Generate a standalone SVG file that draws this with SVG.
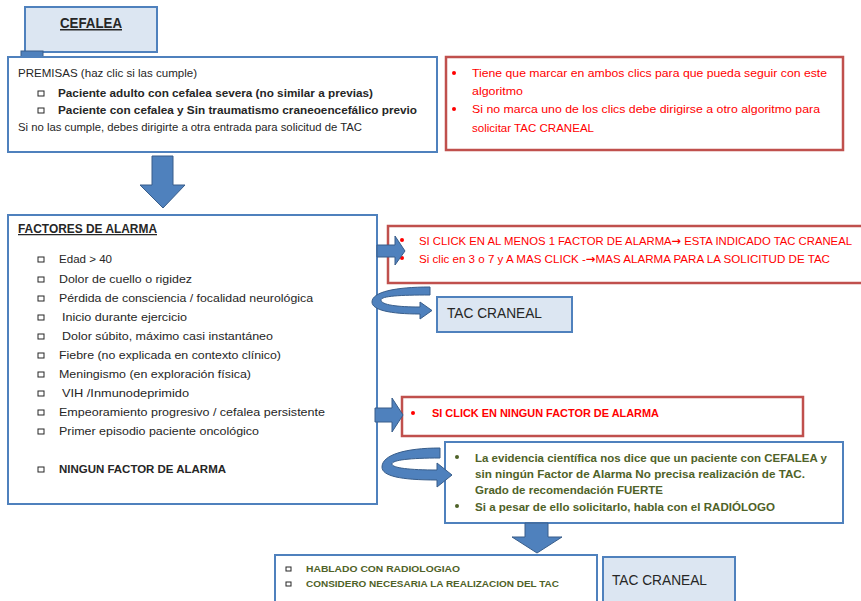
<svg xmlns="http://www.w3.org/2000/svg" width="861" height="601" viewBox="0 0 861 601">
  <style>
    text { font-family: "Liberation Sans", Arial, sans-serif; fill: #262626; }
    .box { fill: #ffffff; stroke: #4f81bd; stroke-width: 2; }
    .lbox { fill: #dce6f2; stroke: #4f81bd; stroke-width: 2; }
    .rbox { fill: #ffffff; stroke: #c0504d; stroke-width: 2.5; }
    .arrow { fill: #4f81bd; stroke: #385d8a; stroke-width: 1; }
    .chk { fill: #ffffff; stroke: #262626; stroke-width: 1; }
    .t { font-size: 11.5px; }
    .tb { font-size: 11.5px; font-weight: bold; }
    .red { font-size: 11.5px; fill: #ff0000; }
    .grn { font-size: 11.5px; font-weight: bold; fill: #4f6228; }
    .sgrn { font-size: 9.5px; font-weight: bold; fill: #4f6228; }
    .tac { font-size: 15.5px; }
    .title { font-size: 15px; font-weight: bold; text-decoration: underline; }
    .rdot { fill: #ff0000; }
    .gdot { fill: #4f6228; }
    .sym { font-family: "DejaVu Sans", sans-serif; font-weight: bold; }
  </style>

  <!-- Title -->
  <g id="cefalea">
    <rect class="lbox" x="25" y="7" width="132" height="45"/>
    <rect x="21" y="51" width="22" height="7" fill="#4f81bd" stroke="#385d8a" stroke-width="1"/>
    <text class="title" x="60" y="28" textLength="62" lengthAdjust="spacingAndGlyphs">CEFALEA</text>
  </g>

  <!-- Premises -->
  <g id="premisas">
    <rect class="box" x="8" y="57" width="429" height="95"/>
    <text class="t" x="18" y="77" textLength="179" lengthAdjust="spacingAndGlyphs">PREMISAS (haz clic si las cumple)</text>
    <rect class="chk" x="38" y="91" width="6" height="5"/>
    <text class="tb" x="58" y="97" textLength="315" lengthAdjust="spacingAndGlyphs">Paciente adulto con cefalea severa (no similar a previas)</text>
    <rect class="chk" x="38" y="108" width="6" height="5"/>
    <text class="tb" x="58" y="114" textLength="359" lengthAdjust="spacingAndGlyphs">Paciente con cefalea y Sin traumatismo craneoencefálico previo</text>
    <text class="t" x="18" y="131" style="font-size:10.5px" textLength="344" lengthAdjust="spacingAndGlyphs">Si no las cumple, debes dirigirte a otra entrada para solicitud de TAC</text>
  </g>

  <!-- Premises note -->
  <g id="nota-premisas">
    <rect class="rbox" x="446" y="57" width="397" height="93"/>
    <circle class="rdot" cx="454" cy="73" r="2"/>
    <text class="red" x="472" y="77" textLength="355" lengthAdjust="spacingAndGlyphs">Tiene que marcar en ambos clics para que pueda seguir con este</text>
    <text class="red" x="472" y="95" textLength="51" lengthAdjust="spacingAndGlyphs">algoritmo</text>
    <circle class="rdot" cx="454" cy="109" r="2"/>
    <text class="red" x="472" y="113" textLength="348" lengthAdjust="spacingAndGlyphs">Si no marca uno de los clics debe dirigirse a otro algoritmo para</text>
    <text class="red" x="472" y="132" textLength="122" lengthAdjust="spacingAndGlyphs">solicitar TAC CRANEAL</text>
  </g>

  <!-- Alarm factors -->
  <g id="factores">
    <rect class="box" x="8" y="215" width="369" height="289"/>
    <text class="title" x="18" y="233" style="font-size:12.5px" textLength="139" lengthAdjust="spacingAndGlyphs">FACTORES DE ALARMA</text>
    <g class="chks">
      <rect class="chk" x="38" y="257" width="6" height="5"/>
      <rect class="chk" x="38" y="277" width="6" height="5"/>
      <rect class="chk" x="38" y="296" width="6" height="5"/>
      <rect class="chk" x="38" y="315" width="6" height="5"/>
      <rect class="chk" x="38" y="334" width="6" height="5"/>
      <rect class="chk" x="38" y="353" width="6" height="5"/>
      <rect class="chk" x="38" y="372" width="6" height="5"/>
      <rect class="chk" x="38" y="391" width="6" height="5"/>
      <rect class="chk" x="38" y="410" width="6" height="5"/>
      <rect class="chk" x="38" y="429" width="6" height="5"/>
      <rect class="chk" x="38" y="467" width="6" height="5"/>
    </g>
    <text class="t" x="59" y="263" textLength="53" lengthAdjust="spacingAndGlyphs">Edad &gt; 40</text>
    <text class="t" x="59" y="283" textLength="133" lengthAdjust="spacingAndGlyphs">Dolor de cuello o rigidez</text>
    <text class="t" x="59" y="302" textLength="254" lengthAdjust="spacingAndGlyphs">Pérdida de consciencia / focalidad neurológica</text>
    <text class="t" x="62" y="321" textLength="125" lengthAdjust="spacingAndGlyphs">Inicio durante ejercicio</text>
    <text class="t" x="62" y="340" textLength="211" lengthAdjust="spacingAndGlyphs">Dolor súbito, máximo casi instantáneo</text>
    <text class="t" x="59" y="359" textLength="222" lengthAdjust="spacingAndGlyphs">Fiebre (no explicada en contexto clínico)</text>
    <text class="t" x="59" y="378" textLength="192" lengthAdjust="spacingAndGlyphs">Meningismo (en exploración física)</text>
    <text class="t" x="62" y="397" textLength="127" lengthAdjust="spacingAndGlyphs">VIH /Inmunodeprimido</text>
    <text class="t" x="59" y="416" textLength="266" lengthAdjust="spacingAndGlyphs">Empeoramiento progresivo / cefalea persistente</text>
    <text class="t" x="59" y="435" textLength="200" lengthAdjust="spacingAndGlyphs">Primer episodio paciente oncológico</text>
    <text class="tb" x="59" y="473" textLength="167" lengthAdjust="spacingAndGlyphs">NINGUN FACTOR DE ALARMA</text>
  </g>

  <!-- Indication note -->
  <g id="nota-indicado">
    <rect class="rbox" x="388" y="226" width="480" height="57"/>
    <circle class="rdot" cx="402" cy="240" r="2"/>
    <text class="red" x="419" y="245" textLength="433" lengthAdjust="spacingAndGlyphs">SI CLICK EN AL MENOS 1 FACTOR DE ALARMA<tspan class="sym">→</tspan> ESTA INDICADO TAC CRANEAL</text>
    <circle class="rdot" cx="402" cy="258" r="2"/>
    <text class="red" x="419" y="263" textLength="411" lengthAdjust="spacingAndGlyphs">Si clic en 3 o 7 y A MAS CLICK -<tspan class="sym">→</tspan>MAS ALARMA PARA LA SOLICITUD DE TAC</text>
  </g>

  <g id="tac-1">
    <rect class="lbox" x="437" y="297" width="135" height="35"/>
    <text class="tac" x="447" y="318" textLength="95" lengthAdjust="spacingAndGlyphs">TAC CRANEAL</text>
  </g>

  <!-- No alarm note -->
  <g id="nota-ninguno">
    <rect class="rbox" x="402" y="397" width="401" height="39"/>
    <circle class="rdot" cx="413" cy="413" r="2"/>
    <text class="red" x="432" y="417" style="font-weight:bold" textLength="227" lengthAdjust="spacingAndGlyphs">SI CLICK EN NINGUN FACTOR DE ALARMA</text>
  </g>

  <g id="evidencia">
    <rect class="box" x="445" y="442" width="398" height="81"/>
    <circle class="gdot" cx="457" cy="457" r="2"/>
    <text class="grn" x="475" y="462" textLength="352" lengthAdjust="spacingAndGlyphs">La evidencia científica nos dice que un paciente con CEFALEA y</text>
    <text class="grn" x="475" y="478" textLength="330" lengthAdjust="spacingAndGlyphs">sin ningún Factor de Alarma No precisa realización de TAC.</text>
    <text class="grn" x="475" y="494" textLength="188" lengthAdjust="spacingAndGlyphs">Grado de recomendación FUERTE</text>
    <circle class="gdot" cx="457" cy="506" r="2"/>
    <text class="grn" x="475" y="511" textLength="300" lengthAdjust="spacingAndGlyphs">Si a pesar de ello solicitarlo, habla con el RADIÓLOGO</text>
  </g>

  <g id="radiologo">
    <rect class="box" x="275" y="555" width="322" height="52"/>
    <rect class="chk" x="286" y="567" width="5" height="4" stroke="#4f6228"/>
    <text class="sgrn" x="306" y="572" textLength="154" lengthAdjust="spacingAndGlyphs">HABLADO CON RADIOLOGIAO</text>
    <rect class="chk" x="286" y="582" width="5" height="4" stroke="#4f6228"/>
    <text class="sgrn" x="306" y="587" textLength="253" lengthAdjust="spacingAndGlyphs">CONSIDERO NECESARIA LA REALIZACION DEL TAC</text>
  </g>

  <g id="tac-2">
    <rect class="lbox" x="603" y="557" width="132" height="50"/>
    <text class="tac" x="612" y="585" textLength="95" lengthAdjust="spacingAndGlyphs">TAC CRANEAL</text>
  </g>

  <!-- Connectors -->
  <g id="connectors">
    <polygon class="arrow" points="152,156 173,156 173,185 185,185 163,208 140,185 152,185"/>
    <polygon class="arrow" points="377,245 395,245 395,236 405,251 395,265 395,257 377,257"/>
    <path class="arrow" d="M430,287 C395,287 372,292 372,302 C372,310 390,314 420,314 L420,319 L432,310.5 L420,302 L420,307 C398,307 381,305 381,300 C381,296 400,295 430,295 Z"/>
    <polygon class="arrow" points="375,408 392,408 392,398 403,415 392,432 392,422 375,422"/>
    <path class="arrow" d="M440,448 C405,448 382,455 382,467 C382,476 400,480 437,480 L437,487 L452,475 L437,463 L437,470 C410,470 392,468 392,464 C392,460 410,458 440,458 Z"/>
    <polygon class="arrow" points="525,523 548,523 548,537 562,537 537,553 512,537 525,537"/>
  </g>
</svg>
